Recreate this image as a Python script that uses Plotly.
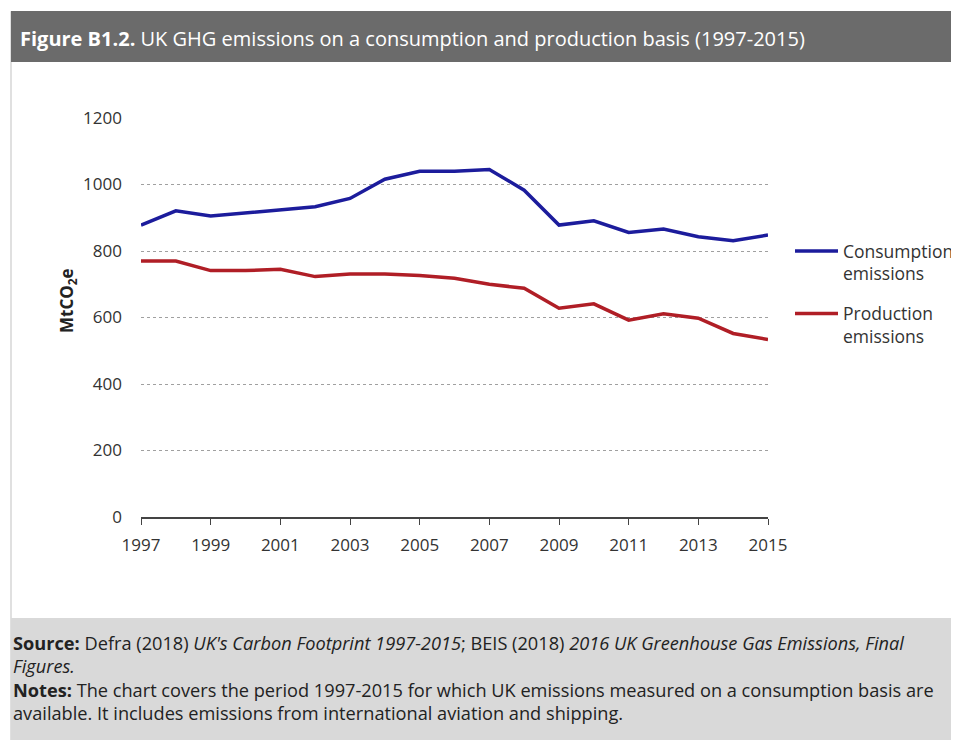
import plotly.graph_objects as go

years = list(range(1997, 2016))
consumption = [878, 921, 905, 914, 925, 933, 958, 1016, 1040, 1040, 1045,
               983, 878, 891, 856, 866, 843, 831, 848]
production = [770, 770, 741, 741, 745, 723, 731, 731, 726, 718, 700,
              688, 628, 641, 592, 611, 598, 552, 534]
y_ticks = [0, 200, 400, 600, 800, 1000, 1200]
x_ticks = list(range(1997, 2016, 2))

# The page body has an 8px margin, so the figure is sized to fill the rest
OFF = 8
W, H = 959 - OFF, 740 - OFF
FONT = "Open Sans"


def px(x):
    return (x - OFF) / W


def py(y):
    return 1 - (y - OFF) / H


fig = go.Figure()
fig.add_trace(go.Scatter(x=years, y=consumption, mode="lines",
                         name="Consumption<br>emissions", legendgroup="a",
                         line=dict(color="#1c1c9c", width=3.5)))
fig.add_trace(go.Scatter(x=years, y=production, mode="lines",
                         name="Production<br>emissions", legendgroup="b",
                         line=dict(color="#b01e26", width=3.5)))

shapes = [
    # outer frame
    dict(type="rect", xref="paper", yref="paper", x0=px(11), x1=px(957),
         y0=py(740), y1=py(12), fillcolor="white",
         line=dict(color="#d6d6d6", width=1.5), layer="below"),
    # title bar
    dict(type="rect", xref="paper", yref="paper", x0=px(11), x1=px(959),
         y0=py(62), y1=py(11), fillcolor="#6b6b6b", line=dict(width=0),
         layer="below"),
    # footer
    dict(type="rect", xref="paper", yref="paper", x0=px(11), x1=px(959),
         y0=py(740), y1=py(618), fillcolor="#d9d9d9", line=dict(width=0),
         layer="below"),
]

annotations = [
    dict(text="<b>Figure B1.2.</b> UK GHG emissions on a consumption and production basis (1997-2015)",
         xref="paper", yref="paper", x=px(18), y=py(38), xanchor="left",
         yanchor="middle", showarrow=False,
         font=dict(family=FONT, size=20, color="white")),
    dict(text="MtCO<sub>2</sub>e", xref="paper", yref="paper", x=px(67),
         y=py(301), xanchor="center", yanchor="middle", textangle=-90,
         showarrow=False,
         font=dict(family=FONT, size=17, color="#222222", weight="bold")),
]

footer_lines = [
    "<b>Source:</b> Defra (2018) <i>UK's Carbon Footprint 1997-2015</i>; BEIS (2018) <i>2016 UK Greenhouse Gas Emissions, Final</i>",
    "<i>Figures.</i>",
    "<b>Notes:</b> The chart covers the period 1997-2015 for which UK emissions measured on a consumption basis are",
    "available. It includes emissions from international aviation and shipping.",
]
footer_y = [643, 666, 690, 713]
for t, yy in zip(footer_lines, footer_y):
    annotations.append(dict(text=t, xref="paper", yref="paper", x=px(11),
                            y=py(yy), xanchor="left", yanchor="middle",
                            showarrow=False,
                            font=dict(family=FONT, size=18.2, color="#222222")))

fig.update_layout(
    width=W, height=H,
    margin=dict(l=0, r=0, t=0, b=0, autoexpand=False),
    paper_bgcolor="white", plot_bgcolor="white",
    font=dict(family=FONT, color="#333333"),
    shapes=shapes, annotations=annotations,
    legend=dict(x=px(790), y=py(233), xanchor="left", yanchor="top",
                bgcolor="rgba(0,0,0,0)", font=dict(family=FONT, size=17.5,
                                                   color="#333333"),
                traceorder="grouped", tracegroupgap=14, valign="top",
                itemwidth=43),
    showlegend=True,
    xaxis=dict(domain=[px(141), px(768)], range=[1997, 2015],
               tickvals=x_ticks, ticktext=[str(v) for v in x_ticks],
               showgrid=False, showline=True, linecolor="#444444",
               linewidth=1.5, ticks="outside", ticklen=6, tickcolor="#444444",
               tickwidth=1.2, zeroline=False, automargin=False,
               ticklabelstandoff=6,
               tickfont=dict(family=FONT, size=17, color="#333333")),
    yaxis=dict(domain=[py(517), py(118)], range=[0, 1200],
               tickvals=y_ticks, ticktext=[str(v) for v in y_ticks],
               showgrid=True, gridcolor="#a0a0a0", griddash="dot",
               gridwidth=1, zeroline=False, showline=False, ticks="",
               ticklabelstandoff=18, automargin=False,
               tickfont=dict(family=FONT, size=17, color="#333333")),
)

fig.write_html("out.html")
